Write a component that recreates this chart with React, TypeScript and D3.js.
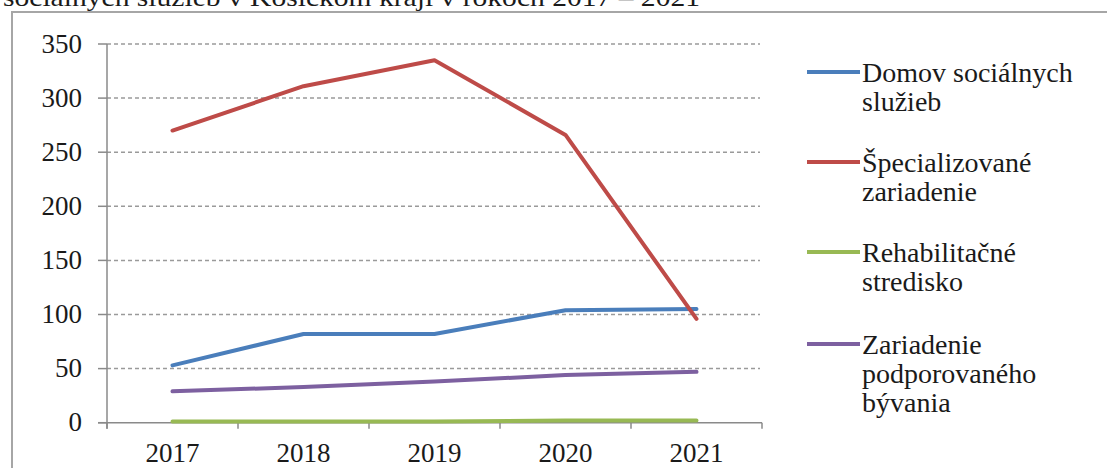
import React from "react";
import * as d3 from "d3";

const years = ["2017", "2018", "2019", "2020", "2021"];
const yTicks = [0, 50, 100, 150, 200, 250, 300, 350];
const domov = [53, 82, 82, 104, 105];
const specializovane = [270, 311, 335, 266, 96];
const rehabilitacne = [1, 1, 1, 2, 2];
const zariadeniePB = [29, 33, 38, 44, 47];

const seriesNames = [
  ["Domov sociálnych", "služieb"],
  ["Špecializované", "zariadenie"],
  ["Rehabilitačné", "stredisko"],
  ["Zariadenie", "podporovaného", "bývania"],
];
const seriesColors = ["#4A7EBB", "#BE4B48", "#98B954", "#7D60A0"];
const seriesValues = [domov, specializovane, rehabilitacne, zariadeniePB];
const caption = "sociálnych služieb v Košickom kraji v rokoch 2017 – 2021";

const W = 1107;
const H = 468;
const FONT = "'Liberation Serif', 'DejaVu Serif', serif";

function SText({ x, y, anchor = "start", size = 26, children }: any) {
  return (
    <text
      x={x}
      y={y}
      textAnchor={anchor}
      fontFamily={FONT}
      fontSize={size}
      fill="#1a1a1a"
    >
      {children}
    </text>
  );
}

export default function App() {
  const x = d3.scaleBand<string>().domain(years).range([107, 762]).padding(0);
  const y = d3.scaleLinear().domain([0, 350]).range([422.7, 44]);
  const cx = (d: string) => (x(d) as number) + x.bandwidth() / 2;
  const line = d3
    .line<number>()
    .x((_, i) => cx(years[i]))
    .y((v) => y(v));

  const bandEdges = years.map((d) => x(d) as number).concat([762]);
  const legendY = [72, 162, 252, 344];

  return (
    <svg
      width={W}
      height={H}
      style={{ position: "absolute", left: 0, top: 0, background: "#fff" }}
    >
      <rect x={0} y={0} width={W} height={H} fill="#fff" />
      <text
        x={3}
        y={6}
        fontFamily={FONT}
        fontSize={26}
        fill="#1a1a1a"
        textLength={697}
        lengthAdjust="spacingAndGlyphs"
      >
        {caption}
      </text>
      <rect x={12} y={12} width={1120} height={480} fill="#fff" stroke="#a6a6a6" strokeWidth={2} />

      {yTicks.map((t) =>
        t === 0 ? null : (
          <line
            key={"g" + t}
            x1={107}
            x2={760}
            y1={y(t)}
            y2={y(t)}
            stroke="#9a9a9a"
            strokeWidth={1.5}
            strokeDasharray="4,3"
          />
        )
      )}
      {yTicks.map((t) => (
        <line key={"t" + t} x1={98} x2={107} y1={y(t)} y2={y(t)} stroke="#8a8a8a" strokeWidth={1.5} />
      ))}
      <line x1={107} x2={107} y1={y(350)} y2={y(0) + 6} stroke="#8a8a8a" strokeWidth={1.5} />
      <line x1={98} x2={762} y1={y(0)} y2={y(0)} stroke="#8a8a8a" strokeWidth={1.5} />
      {bandEdges.map((e, i) => (
        <line key={"xt" + i} x1={e} x2={e} y1={y(0)} y2={y(0) + 6} stroke="#8a8a8a" strokeWidth={1.5} />
      ))}

      {yTicks.map((t) => (
        <SText key={"yl" + t} x={82} y={y(t) + 8.5} anchor="end" size={27}>
          {String(t)}
        </SText>
      ))}
      {years.map((d) => (
        <SText key={"xl" + d} x={cx(d)} y={462} anchor="middle" size={27}>
          {d}
        </SText>
      ))}

      {seriesValues.map((vals, i) => (
        <path
          key={"s" + i}
          d={line(vals) as string}
          fill="none"
          stroke={seriesColors[i]}
          strokeWidth={4}
          strokeLinejoin="round"
          strokeLinecap="round"
        />
      ))}

      {seriesNames.map((lines, i) => (
        <g key={"lg" + i}>
          <line
            x1={807}
            x2={860}
            y1={legendY[i]}
            y2={legendY[i]}
            stroke={seriesColors[i]}
            strokeWidth={4}
          />
          {lines.map((ln, j) => (
            <SText key={j} x={862} y={legendY[i] + 9.5 + j * 29} size={28}>
              {ln}
            </SText>
          ))}
        </g>
      ))}
    </svg>
  );
}
